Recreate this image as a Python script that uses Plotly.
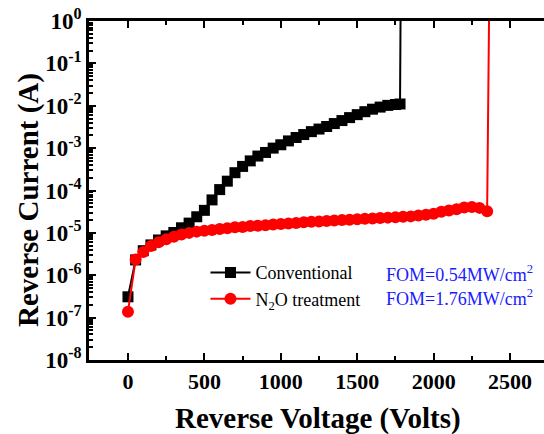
import plotly.graph_objects as go

# Reverse voltage (V) and reverse current (A)
conv_v = [0, 50, 100, 150, 200, 250, 300, 350, 400, 450, 500, 550, 600, 650, 700,
          750, 800, 850, 900, 950, 1000, 1050, 1100, 1150, 1200, 1250, 1300, 1350,
          1400, 1450, 1500, 1550, 1600, 1650, 1700, 1750, 1780, 1785]
conv_i = [3.1e-7, 2.3e-6, 3.8e-6, 5.2e-6, 6.8e-6, 8.5e-6, 1.02e-5, 1.32e-5, 1.70e-5,
          2.4e-5, 3.4e-5, 6.0e-5, 1.05e-4, 1.66e-4, 2.63e-4, 3.7e-4, 5.0e-4, 6.5e-4,
          7.9e-4, 1.0e-3, 1.2e-3, 1.48e-3, 1.78e-3, 2.09e-3, 2.45e-3, 2.82e-3, 3.24e-3,
          3.8e-3, 4.47e-3, 5.25e-3, 6.17e-3, 7.24e-3, 8.3e-3, 9.3e-3, 1.02e-2, 1.07e-2,
          1.10e-2, 10.0]

n2o_v = [0, 50, 100, 150, 200, 250, 300, 350, 400, 450, 500, 550, 600, 650, 700, 750,
         800, 850, 900, 950, 1000, 1050, 1100, 1150, 1200, 1250, 1300, 1350, 1400, 1450,
         1500, 1550, 1600, 1650, 1700, 1750, 1800, 1850, 1900, 1950, 2000, 2050, 2100,
         2150, 2200, 2250, 2300, 2350, 2365]
n2o_i = [1.38e-7, 2.34e-6, 3.55e-6, 4.9e-6, 6.0e-6, 7.1e-6, 8.1e-6, 9.1e-6, 1.0e-5,
         1.07e-5, 1.12e-5, 1.17e-5, 1.23e-5, 1.29e-5, 1.35e-5, 1.38e-5, 1.45e-5, 1.48e-5,
         1.51e-5, 1.58e-5, 1.62e-5, 1.66e-5, 1.70e-5, 1.78e-5, 1.82e-5, 1.86e-5, 1.91e-5,
         1.95e-5, 2.0e-5, 2.04e-5, 2.09e-5, 2.14e-5, 2.19e-5, 2.24e-5, 2.29e-5, 2.34e-5,
         2.40e-5, 2.45e-5, 2.57e-5, 2.69e-5, 2.82e-5, 3.16e-5, 3.39e-5, 3.63e-5, 3.98e-5,
         4.07e-5, 3.89e-5, 3.24e-5, 10.0]

x_ticks = [0, 500, 1000, 1500, 2000, 2500]
y_tickvals = [1e-8, 1e-7, 1e-6, 1e-5, 1e-4, 1e-3, 1e-2, 1e-1, 1]
y_ticktext = ["<b>10<sup>-8</sup></b>", "<b>10<sup>-7</sup></b>", "<b>10<sup>-6</sup></b>",
              "<b>10<sup>-5</sup></b>", "<b>10<sup>-4</sup></b>", "<b>10<sup>-3</sup></b>",
              "<b>10<sup>-2</sup></b>", "<b>10<sup>-1</sup></b>", "<b>10<sup>0</sup></b>"]
fom_texts = ["FOM=0.54MW/cm<sup>2</sup>", "FOM=1.76MW/cm<sup>2</sup>"]

FONT = "Liberation Serif"

fig = go.Figure()
fig.add_trace(go.Scatter(
    x=conv_v, y=conv_i, mode="lines+markers", name="Conventional",
    line=dict(color="black", width=2),
    marker=dict(symbol="square", size=11, color="black"),
))
fig.add_trace(go.Scatter(
    x=n2o_v, y=n2o_i, mode="lines+markers", name="N<sub>2</sub>O treatment",
    line=dict(color="red", width=2),
    marker=dict(symbol="circle", size=12, color="red"),
))

fig.update_layout(
    width=544, height=434,
    margin=dict(l=89, r=0, t=21, b=74),
    paper_bgcolor="white", plot_bgcolor="white",
    font=dict(family=FONT, color="black"),
    legend=dict(
        x=0.256, y=0.312, xanchor="left", yanchor="top",
        bgcolor="rgba(0,0,0,0)", font=dict(family=FONT, size=18, color="black"),
        itemwidth=40, tracegroupgap=0,
    ),
    showlegend=True,
)

fig.update_xaxes(
    range=[-255, 2722], tickvals=x_ticks,
    showgrid=False, zeroline=False,
    showline=True, linecolor="black", linewidth=2.5, mirror="ticks",
    ticks="inside", ticklen=7, tickwidth=2, tickcolor="black",
    tickfont=dict(family=FONT, size=22, weight="bold", color="black"),
    minor=dict(ticks="inside", ticklen=4, tickwidth=2, tickcolor="black", dtick=250,
               tick0=0, showgrid=False),
)
fig.update_yaxes(
    type="log", range=[-8, 0], tickvals=y_tickvals, ticktext=y_ticktext,
    showgrid=False, zeroline=False,
    showline=True, linecolor="black", linewidth=2.5, mirror=False,
    ticks="inside", ticklen=7, tickwidth=2, tickcolor="black",
    tickfont=dict(family=FONT, size=23, color="black"),
    minor=dict(ticks="inside", ticklen=4, tickwidth=1.5, tickcolor="black",
               dtick="D1", showgrid=False),
)

# Axis titles
fig.add_annotation(text="<b>Reverse Voltage (Volts)</b>", xref="paper", yref="paper",
                   x=(318 - 89) / 455, y=-(419 - 360) / 339, xanchor="center",
                   yanchor="middle", showarrow=False,
                   font=dict(family=FONT, size=29, color="black"))
fig.add_annotation(text="<b>Reverse Current (A)</b>", xref="paper", yref="paper",
                   x=-(89 - 28) / 455, y=(360 - 200) / 339, xanchor="center",
                   yanchor="middle", showarrow=False, textangle=-90,
                   font=dict(family=FONT, size=29, color="black"))

# FOM labels
for k, t in enumerate(fom_texts):
    fig.add_annotation(text=t, xref="paper", yref="paper",
                       x=(384 - 89) / 455, y=(360 - (273 + 24 * k)) / 339,
                       xanchor="left", yanchor="middle", showarrow=False,
                       font=dict(family=FONT, size=18, color="#1a1aff"))

fig.write_html("out.html", config={"displayModeBar": False},
               post_script="document.body.style.margin='0';document.body.style.overflow='hidden';")
